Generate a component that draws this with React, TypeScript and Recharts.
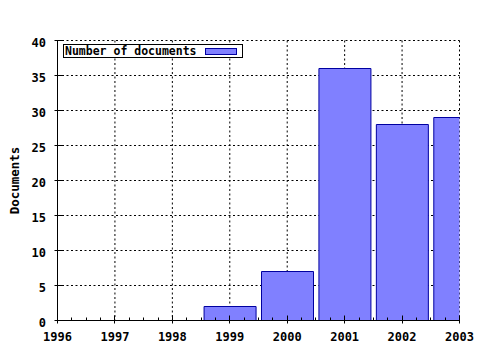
import { Bar, BarChart, CartesianGrid, Legend, XAxis, YAxis } from "recharts";

const years = [1996, 1997, 1998, 1999, 2000, 2001, 2002, 2003];
const documents = [0, 0, 0, 2, 7, 36, 28, 29];
const gridYears = [1997, 1998, 1999, 2000, 2001, 2002];
const yTicks = [0, 5, 10, 15, 20, 25, 30, 35, 40];
const quarters = [0, 0.25, 0.5, 0.75];

const xTicks = years
  .flatMap((y) => quarters.map((q) => y + q))
  .filter((t) => t <= 2003);

const data = years.map((year, i) => ({ year, documents: documents[i] }));

const FONT = "'DejaVu Sans Mono', monospace";
const BAR_FILL = "#8080ff";
const BAR_STROKE = "#0000a0";

const crisp = (v: number) => Math.round(v - 0.5) + 0.5;

function BottomTick({ x, y, payload }: any) {
  const major = Number.isInteger(payload.value);
  const px = crisp(x);
  return (
    <g>
      <line
        x1={px}
        x2={px}
        y1={y + (major ? 3 : 0)}
        y2={y - (major ? 5 : 3)}
        stroke="#000"
      />
      {major && (
        <text
          x={x}
          y={y + 20.5}
          textAnchor="middle"
          fontFamily={FONT}
          fontWeight="bold"
          fontSize={12}
          fill="#000"
        >
          {payload.value}
        </text>
      )}
    </g>
  );
}

function TopTick({ x, y, payload }: any) {
  const major = Number.isInteger(payload.value);
  const px = crisp(x);
  return <line x1={px} x2={px} y1={y} y2={y + (major ? 5 : 3)} stroke="#000" />;
}

function LeftTick({ x, y, payload }: any) {
  return (
    <g>
      <line x1={x - 3} x2={x + 5} y1={y} y2={y} stroke="#000" />
      <text
        x={x - 11.5}
        y={y + 6}
        textAnchor="end"
        fontFamily={FONT}
        fontWeight="bold"
        fontSize={12}
        fill="#000"
      >
        {payload.value}
      </text>
    </g>
  );
}

function LegendBox({ payload }: any) {
  const item = payload && payload[0];
  if (!item) return null;
  return (
    <div
      style={{
        boxSizing: "border-box",
        width: 180,
        height: 14,
        border: "1px solid #000",
        background: "#fff",
        display: "flex",
        alignItems: "center",
        justifyContent: "space-between",
        paddingLeft: 1,
        paddingRight: 5,
      }}
    >
      <span
        style={{
          fontFamily: FONT,
          fontWeight: "bold",
          fontSize: 11.5,
          lineHeight: "12px",
          color: "#000",
        }}
      >
        {item.value}
      </span>
      <span
        style={{
          boxSizing: "border-box",
          width: 32,
          height: 7,
          background: BAR_FILL,
          border: `1px solid ${BAR_STROKE}`,
        }}
      />
    </div>
  );
}

export default function App() {
  return (
    <div style={{ position: "absolute", left: 0, top: 0, background: "#fff" }}>
      <BarChart
        width={480}
        height={350}
        data={data}
        margin={{ top: 40.5, right: 20.5, bottom: 0, left: 0 }}
      >
        <CartesianGrid stroke="#000" strokeDasharray="2 2.5" xAxisId="grid" />
        <Bar
          dataKey="documents"
          name="Number of documents"
          fill={BAR_FILL}
          stroke={BAR_STROKE}
          barSize={52}
          isAnimationActive={false}
        />
        <XAxis
          dataKey="year"
          type="number"
          domain={[1996, 2003]}
          ticks={xTicks}
          interval={0}
          allowDataOverflow
          height={29.5}
          tickSize={0}
          tickMargin={0}
          tickLine={false}
          axisLine={{ stroke: "#000" }}
          tick={BottomTick}
        />
        <XAxis
          xAxisId="grid"
          dataKey="year"
          type="number"
          domain={[1996, 2003]}
          ticks={gridYears}
          interval={0}
          allowDataOverflow
          hide
        />
        <XAxis
          xAxisId="top"
          orientation="top"
          dataKey="year"
          type="number"
          domain={[1996, 2003]}
          ticks={xTicks}
          interval={0}
          allowDataOverflow
          height={0}
          tickSize={0}
          tickMargin={0}
          tickLine={false}
          axisLine={{ stroke: "#000" }}
          tick={TopTick}
        />
        <YAxis
          domain={[0, 40]}
          ticks={yTicks}
          interval={0}
          width={57.5}
          tickSize={0}
          tickMargin={0}
          tickLine={false}
          axisLine={{ stroke: "#000" }}
          tick={LeftTick}
          label={{
            content: ({ viewBox }: any) => (
              <text
                transform={`translate(${viewBox.x + 18.5}, ${
                  viewBox.y + viewBox.height / 2
                }) rotate(-90)`}
                textAnchor="middle"
                fontFamily={FONT}
                fontWeight="bold"
                fontSize={12.5}
                fill="#000"
              >
                Documents
              </text>
            ),
          }}
        />
        <YAxis
          yAxisId="right"
          orientation="right"
          domain={[0, 40]}
          width={0}
          tick={false}
          tickLine={false}
          axisLine={{ stroke: "#000" }}
        />
        <Legend
          layout="vertical"
          align="center"
          verticalAlign="middle"
          content={LegendBox}
          wrapperStyle={{ left: 63, top: 44, width: 180, height: 14, margin: 0 }}
        />
      </BarChart>
    </div>
  );
}
